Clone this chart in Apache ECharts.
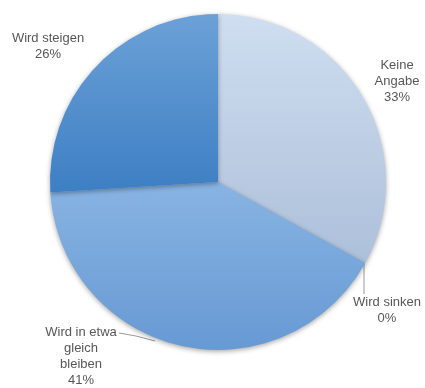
<!DOCTYPE html>
<html>
<head>
<meta charset="utf-8">
<script src="https://cdn.jsdelivr.net/npm/echarts@6/dist/echarts.min.js"></script>
<style>
  html, body { margin: 0; padding: 0; background: #fff; }
  #chart { width: 425px; height: 388px; }
</style>
</head>
<body>
<div id="chart"></div>
<script>
// Survey answers, clockwise from 12 o'clock
const categories = ['Keine\nAngabe', 'Wird sinken', 'Wird in etwa\ngleich\nbleiben', 'Wird steigen'];
const values = [33, 0, 41, 26];
// top / bottom shades of each slice's vertical gradient
const topColors = ['#cfdef0', '#7aa8dc', '#88b4e3', '#6ca1d7'];
const bottomColors = ['#adc0da', '#5e92cf', '#6799d3', '#3d7fc4'];
// label centres
const labelAnchors = [[397, 81], [387, 310], [81, 356], [48, 46]];
// leader lines (pie edge -> label); null where no line is drawn
const leaderLines = [
  null,
  [[364, 264], [364, 279], [364, 294]],
  [[155, 341], [136, 336], [119, 333]],
  null
];

const chart = echarts.init(document.getElementById('chart'));

const data = categories.map((name, i) => ({
  name: name,
  value: values[i],
  itemStyle: {
    color: new echarts.graphic.LinearGradient(0, 0, 0, 1, [
      { offset: 0, color: topColors[i] },
      { offset: 1, color: bottomColors[i] }
    ])
  },
  labelLine: { show: leaderLines[i] !== null }
}));

chart.setOption({
  animation: false,
  series: [{
    type: 'pie',
    center: [218, 182],
    radius: 168,
    startAngle: 90,
    clockwise: true,
    data: data,
    itemStyle: {
      shadowBlur: 5,
      shadowColor: 'rgba(0,0,0,0.35)',
      shadowOffsetY: 1.5,
      borderWidth: 0
    },
    label: {
      show: true,
      position: 'outside',
      formatter: p => p.name + '\n' + p.value + '%',
      fontFamily: 'Liberation Sans, Arial, sans-serif',
      fontSize: 13,
      lineHeight: 16,
      color: '#575757',
      align: 'center',
      overflow: 'none'
    },
    labelLine: {
      length: 10,
      length2: 10,
      lineStyle: { color: '#999', width: 1 }
    },
    labelLayout: function (params) {
      const i = params.dataIndex;
      const a = labelAnchors[i];
      const out = { x: a[0], y: a[1], align: 'center', verticalAlign: 'middle' };
      if (leaderLines[i]) out.labelLinePoints = leaderLines[i];
      return out;
    }
  }]
});
</script>
</body>
</html>
